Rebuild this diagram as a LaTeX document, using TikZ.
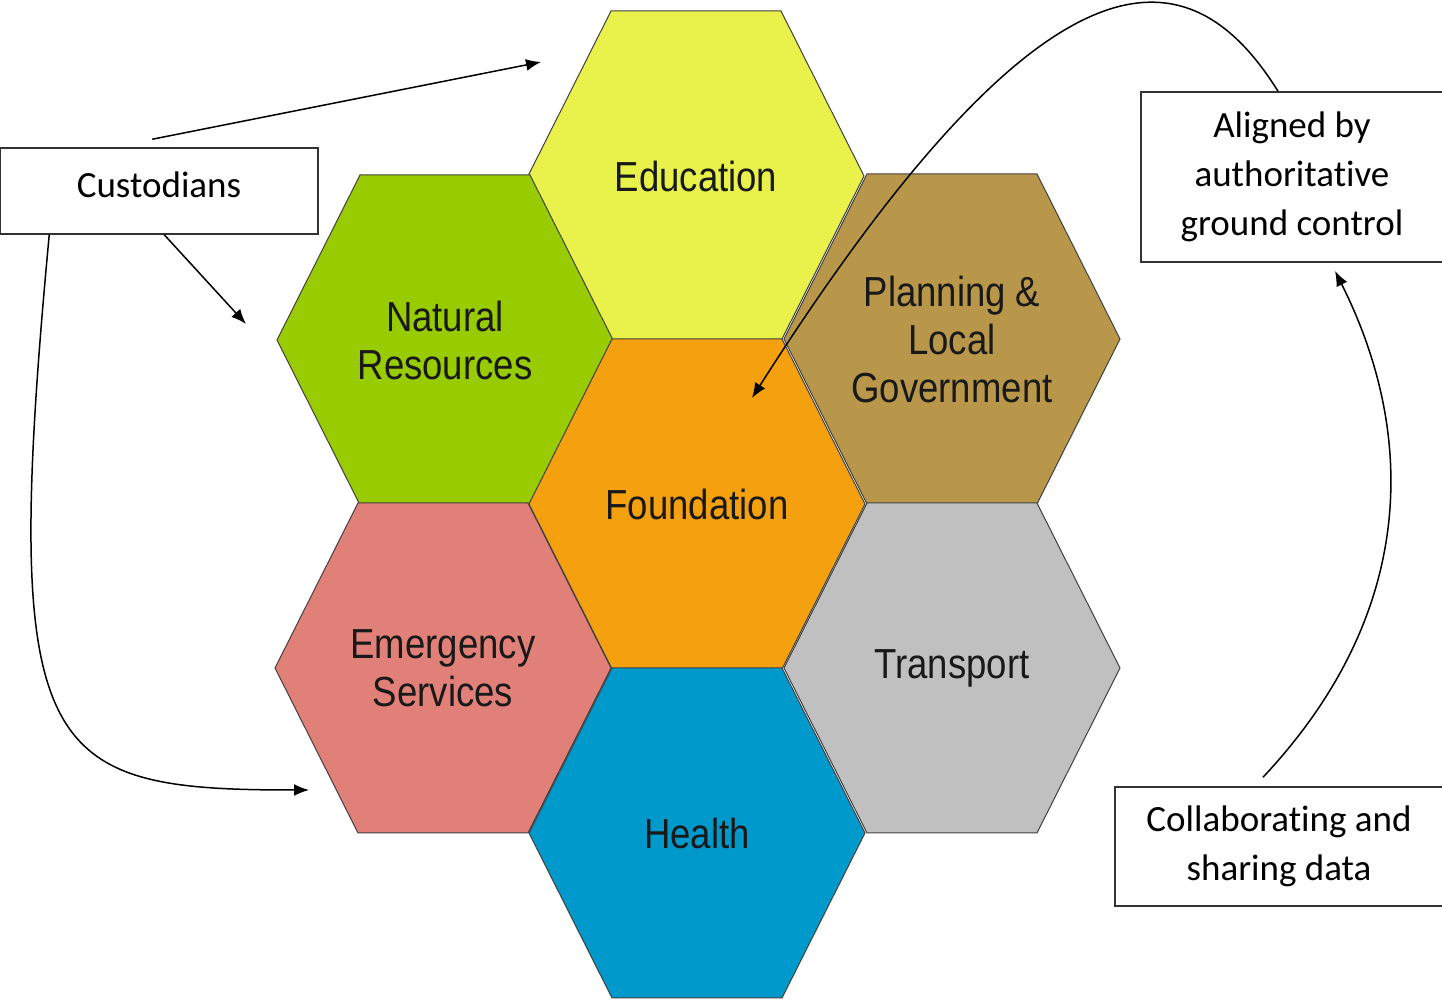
\documentclass[tikz,border=0pt]{standalone}
\usepackage{fontspec}
\setmainfont{Carlito}[Ligatures=NoCommon]
\newfontfamily\hexfont{Liberation Sans}[FakeStretch=0.87]
\usetikzlibrary{arrows.meta}
\definecolor{educol}{RGB}{232,242,74}
\definecolor{natcol}{RGB}{153,204,0}
\definecolor{plancol}{RGB}{184,151,74}
\definecolor{foundcol}{RGB}{245,160,15}
\definecolor{emercol}{RGB}{224,128,120}
\definecolor{transcol}{RGB}{192,192,192}
\definecolor{healthcol}{RGB}{0,153,204}
\tikzset{
  hexline/.style={draw=black!75, line width=0.5pt},
  hexlabel/.style={align=center, text=black!90, font=\hexfont\fontsize{21}{24}\selectfont},
  infobox/.style={draw=black!80, line width=0.75pt, fill=white, align=center, inner sep=0pt,
    font=\fontsize{18.5}{24.5}\selectfont},
  arr/.style={line width=0.75pt, -{Latex[length=7.5pt,width=6pt]}}
}
\newcommand{\honeycell}[5]{%
  \filldraw[hexline, fill=#4, shift={(#2,#3)}] (-168,0) -- (-85,-165) -- (85,-165) -- (168,0) -- (85,165) -- (-85,165) -- cycle;
  \node[hexlabel] (#1) at (#2,#3) {#5};
}

\begin{document}
\begin{tikzpicture}[x=0.5pt, y=-0.5pt]
\useasboundingbox (0,0) rectangle (1442,1004);
\honeycell{edu}{696}{176}{educol}{Education}
\honeycell{nat}{445}{340}{natcol}{Natural\\Resources}
\honeycell{plan}{952}{339}{plancol}{Planning \&\\Local\\Government}
\honeycell{found}{697}{504}{foundcol}{Foundation}
\honeycell{emer}{443}{668}{emercol}{Emergency\\Services}
\honeycell{trans}{952}{668}{transcol}{Transport}
\honeycell{health}{697}{833}{healthcol}{Health}
\node[infobox, minimum width=159pt, minimum height=43pt] (cust) at (159,191) {\raisebox{6pt}{Custodians}};
\node[infobox, minimum width=151pt, minimum height=85pt] (align) at (1292,177) {Aligned by\\authoritative\\ground control};
\node[infobox, minimum width=164pt, minimum height=59.5pt] (collab) at (1279,846.5) {Collaborating and\\sharing data};
\coordinate (edutip) at (541,62);
\coordinate (nattip) at (246,324);
\coordinate (emertip) at (309,790);
\coordinate (foundtip) at (752,398);
\coordinate (aligntip) at (1335,271);
\draw[arr] ([xshift=76.5pt, yshift=4pt]cust.north west) -- (edutip);
\draw[arr] ([xshift=82.5pt]cust.south west) -- (nattip);
\draw[arr] ([xshift=25pt]cust.south west) .. controls (0,760) and (40,790) .. (emertip);
\draw[arr] ([xshift=-7pt]align.north) .. controls (1190,-50) and (1050,-70) .. (foundtip);
\draw[arr] ([xshift=-8pt, yshift=4.5pt]collab.north) .. controls (1420,610) and (1415,430) .. (aligntip);
\end{tikzpicture}
\end{document}
